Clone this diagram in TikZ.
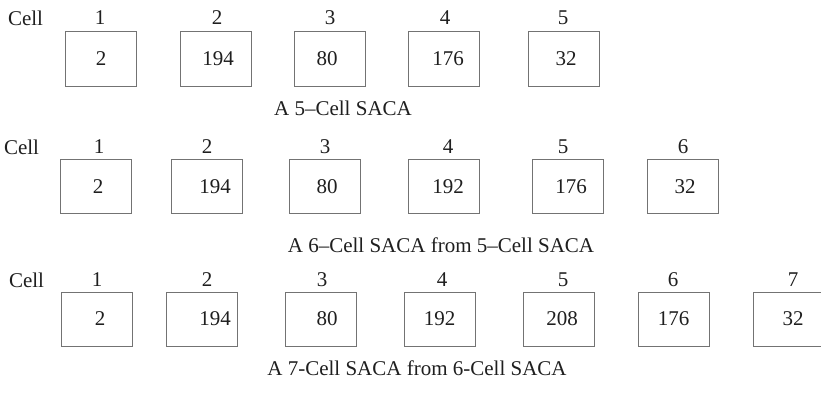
\documentclass[tikz,border=0pt]{standalone}
\usepackage{fontspec}
\setmainfont{Liberation Serif}
\begin{document}
\begin{tikzpicture}[x=1pt,y=-1pt,
  every node/.style={text=black!88, font=\fontsize{21}{25}\selectfont, inner sep=0pt},
  cellbox/.style={draw=black!55, line width=1pt, minimum width=71pt, minimum height=54pt},
  idx/.style={},
  caption/.style={}]
\clip (0,0) rectangle (821,396);
\fill[white] (0,0) rectangle (821,396);

% each entry: index / box centre x / index x / value / text offset (twice the shift)

% 5-cell automaton
\node (h1) at (25.5,18) {Cell};
\foreach \i/\x/\lx/\v/\o in {1/100.5/100/2/1, 2/215.5/217/194/5, 3/329.5/330/80/-5, 4/444/445/176/8, 5/563.5/563/32/5}{
  \node[idx] (a\i l) at (\lx,18) {\i};
  \node[cellbox] (a\i) at (\x,59) {\hspace*{\o pt}\v};
}
\node[caption] (c1) at (343,108) {A 5–Cell SACA};

% 6-cell automaton
\node (h2) at (21.5,147) {Cell};
\foreach \i/\x/\lx/\v/\o in {1/96/99/2/4, 2/206.5/207/194/17, 3/325/325/80/4, 4/444/448/192/8, 5/567.5/563/176/7, 6/682.5/683/32/5}{
  \node[idx] (b\i l) at (\lx,147) {\i};
  \node[cellbox] (b\i) at (\x,186.5) {\hspace*{\o pt}\v};
}
\node[caption] (c2) at (441,245) {A 6–Cell SACA from 5–Cell SACA};

% 7-cell automaton
\node (h3) at (26.5,280) {Cell};
\foreach \i/\x/\lx/\v/\o in {1/96.5/97/2/7, 2/202/207/194/26, 3/320.5/322/80/13, 4/439.5/442/192/0, 5/559/563/208/6, 6/673.5/673/176/0, 7/788.5/793/32/9}{
  \node[idx] (d\i l) at (\lx,280) {\i};
  \node[cellbox] (d\i) at (\x,319) {\hspace*{\o pt}\v};
}
\node[caption] (c3) at (417,368) {A 7-Cell SACA from 6-Cell SACA};
\end{tikzpicture}
\end{document}
